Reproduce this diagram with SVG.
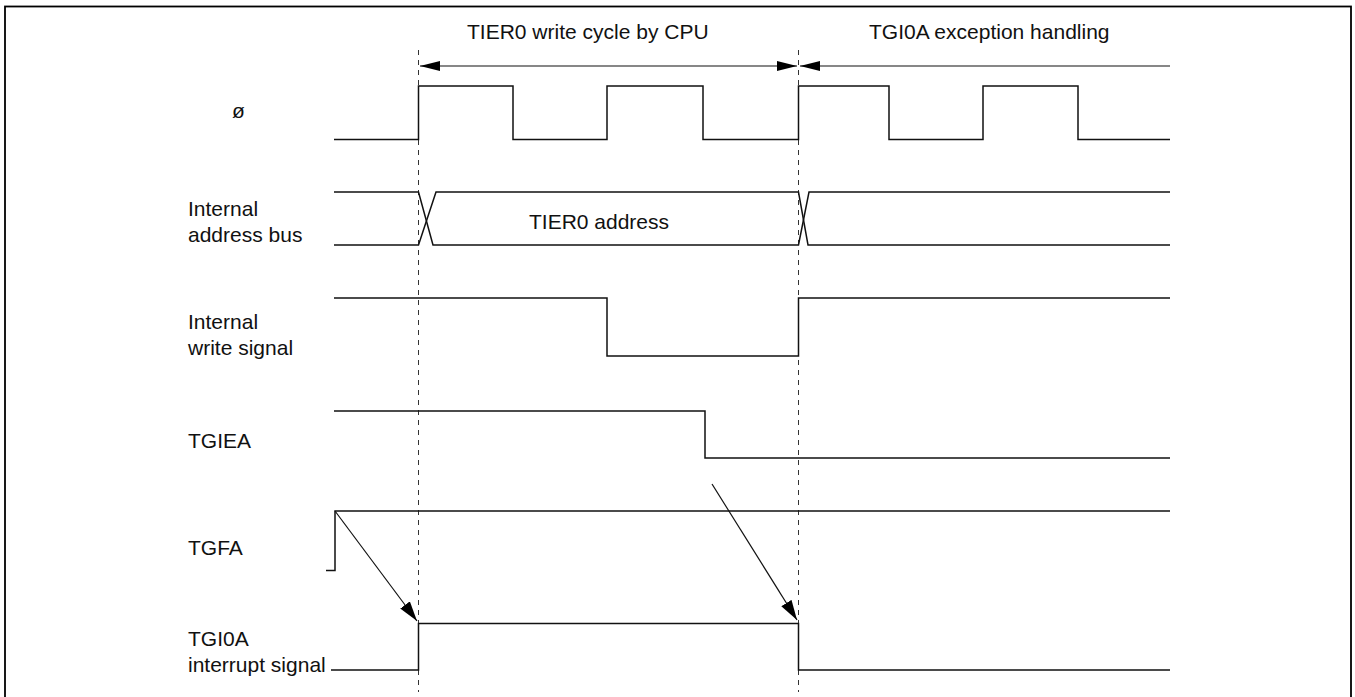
<svg xmlns="http://www.w3.org/2000/svg" width="1355" height="697" viewBox="0 0 1355 697">
<style>
text{font-family:"Liberation Sans",Arial,sans-serif;font-size:21px;fill:#111}
.sig{fill:none;stroke:#111;stroke-width:1.5}
.dash{fill:none;stroke:#333;stroke-width:1;stroke-dasharray:5,5}
.arr{fill:none;stroke:#111;stroke-width:1.2}
</style>
<defs>
<marker id="ah" viewBox="0 0 20 10" refX="20" refY="5" markerWidth="20" markerHeight="10" markerUnits="userSpaceOnUse" orient="auto">
<path d="M0,0 L20,5 L0,10 Z" fill="#000"/>
</marker>
<marker id="ahs" viewBox="0 0 20 10" refX="0" refY="5" markerWidth="20" markerHeight="10" markerUnits="userSpaceOnUse" orient="auto">
<path d="M20,0 L0,5 L20,10 Z" fill="#000"/>
</marker>
<marker id="ahd" viewBox="0 0 20 12" refX="20" refY="6" markerWidth="20" markerHeight="12" markerUnits="userSpaceOnUse" orient="auto">
<path d="M0,0 L20,6 L0,12 Z" fill="#000"/>
</marker>
</defs>
<rect x="5" y="6.5" width="1346" height="700" fill="#fff" stroke="#000" stroke-width="1.8"/>
<g id="headers">
<text x="467" y="39">TIER0 write cycle by CPU</text>
<text x="869" y="39">TGI0A exception handling</text>
</g>
<g id="labels">
<text x="232" y="118">ø</text>
<text x="188" y="216">Internal</text>
<text x="188" y="242">address bus</text>
<text x="188" y="329">Internal</text>
<text x="188" y="355">write signal</text>
<text x="188" y="448">TGIEA</text>
<text x="188" y="555">TGFA</text>
<text x="188" y="646">TGI0A</text>
<text x="188" y="672">interrupt signal</text>
</g>
<g id="guides">
<line class="dash" x1="418.5" y1="50" x2="418.5" y2="692"/>
<line class="dash" x1="798.5" y1="50" x2="798.5" y2="692"/>
</g>
<g id="phi">
<path class="sig" d="M334,139.5 H418.5 V86 H513 V139.5 H607 V86 H703 V139.5 H798.5 V86 H889 V139.5 H983 V86 H1078 V139.5 H1170"/>
</g>
<g id="addr">
<path class="sig" d="M334,192 H418.5 L433,245 H798.5 L809,192 H1170"/>
<path class="sig" d="M334,245 H418.5 L436,192 H798.5 L808,245 H1170"/>
<text x="599" y="229" text-anchor="middle">TIER0 address</text>
</g>
<g id="write">
<path class="sig" d="M334,298 H607 V356 H798.5 V298 H1170"/>
</g>
<g id="tgiea">
<path class="sig" d="M334,411 H705 V458 H1170"/>
</g>
<g id="tgfa">
<path class="sig" d="M326,570.5 H335 V511 H1170"/>
</g>
<g id="tgi0a">
<path class="sig" d="M331,670 H418.5 V623.5 H798.5 V670 H1170"/>
</g>
<g id="connectors">
<line class="arr" x1="420" y1="66" x2="797" y2="66" marker-start="url(#ahs)" marker-end="url(#ah)"/>
<line class="arr" x1="800" y1="66" x2="1170" y2="66" marker-start="url(#ahs)"/>
<line class="arr" x1="335" y1="511" x2="417" y2="621" marker-end="url(#ahd)"/>
<line class="arr" x1="712" y1="484" x2="797" y2="620" marker-end="url(#ahd)"/>
</g>
</svg>
